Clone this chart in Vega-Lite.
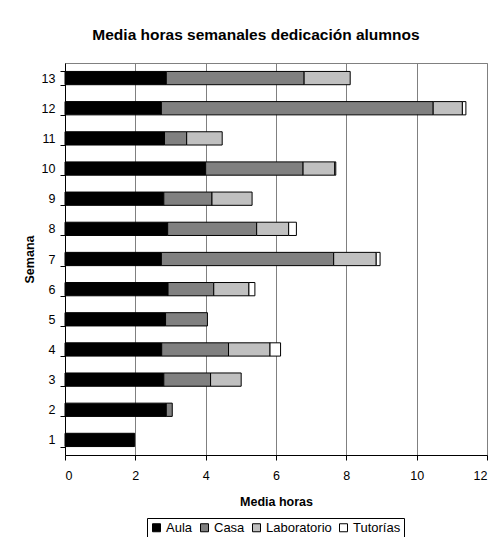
{
  "$schema": "https://vega.github.io/schema/vega-lite/v6.json",
  "autosize": "none",
  "width": 422,
  "height": 392,
  "padding": {"left": 65, "top": 63, "right": 9, "bottom": 82},
  "background": "white",
  "title": {
    "text": "Media horas semanales dedicación alumnos",
    "font": "Liberation Sans",
    "fontSize": 15.5,
    "fontWeight": "bold",
    "color": "black",
    "anchor": "middle",
    "dx": -20,
    "offset": 14
  },
  "data": {
    "values": [
      {"Semana": 13, "Tipo": "Aula", "Horas": 2.88},
      {"Semana": 13, "Tipo": "Casa", "Horas": 3.92},
      {"Semana": 13, "Tipo": "Laboratorio", "Horas": 1.31},
      {"Semana": 12, "Tipo": "Aula", "Horas": 2.74},
      {"Semana": 12, "Tipo": "Casa", "Horas": 7.73},
      {"Semana": 12, "Tipo": "Laboratorio", "Horas": 0.83},
      {"Semana": 12, "Tipo": "Tutorías", "Horas": 0.1},
      {"Semana": 11, "Tipo": "Aula", "Horas": 2.83},
      {"Semana": 11, "Tipo": "Casa", "Horas": 0.63},
      {"Semana": 11, "Tipo": "Laboratorio", "Horas": 1.01},
      {"Semana": 10, "Tipo": "Aula", "Horas": 4.0},
      {"Semana": 10, "Tipo": "Casa", "Horas": 2.77},
      {"Semana": 10, "Tipo": "Laboratorio", "Horas": 0.9},
      {"Semana": 10, "Tipo": "Tutorías", "Horas": 0.03},
      {"Semana": 9, "Tipo": "Aula", "Horas": 2.81},
      {"Semana": 9, "Tipo": "Casa", "Horas": 1.37},
      {"Semana": 9, "Tipo": "Laboratorio", "Horas": 1.14},
      {"Semana": 8, "Tipo": "Aula", "Horas": 2.92},
      {"Semana": 8, "Tipo": "Casa", "Horas": 2.53},
      {"Semana": 8, "Tipo": "Laboratorio", "Horas": 0.91},
      {"Semana": 8, "Tipo": "Tutorías", "Horas": 0.22},
      {"Semana": 7, "Tipo": "Aula", "Horas": 2.74},
      {"Semana": 7, "Tipo": "Casa", "Horas": 4.9},
      {"Semana": 7, "Tipo": "Laboratorio", "Horas": 1.21},
      {"Semana": 7, "Tipo": "Tutorías", "Horas": 0.11},
      {"Semana": 6, "Tipo": "Aula", "Horas": 2.93},
      {"Semana": 6, "Tipo": "Casa", "Horas": 1.3},
      {"Semana": 6, "Tipo": "Laboratorio", "Horas": 1.0},
      {"Semana": 6, "Tipo": "Tutorías", "Horas": 0.17},
      {"Semana": 5, "Tipo": "Aula", "Horas": 2.86},
      {"Semana": 5, "Tipo": "Casa", "Horas": 1.19},
      {"Semana": 4, "Tipo": "Aula", "Horas": 2.75},
      {"Semana": 4, "Tipo": "Casa", "Horas": 1.9},
      {"Semana": 4, "Tipo": "Laboratorio", "Horas": 1.18},
      {"Semana": 4, "Tipo": "Tutorías", "Horas": 0.3},
      {"Semana": 3, "Tipo": "Aula", "Horas": 2.81},
      {"Semana": 3, "Tipo": "Casa", "Horas": 1.33},
      {"Semana": 3, "Tipo": "Laboratorio", "Horas": 0.87},
      {"Semana": 2, "Tipo": "Aula", "Horas": 2.88},
      {"Semana": 2, "Tipo": "Casa", "Horas": 0.17},
      {"Semana": 1, "Tipo": "Aula", "Horas": 1.98}
    ]
  },
  "mark": {"type": "bar", "stroke": "black", "strokeWidth": 1},
  "encoding": {
    "y": {
      "field": "Semana",
      "type": "ordinal",
      "sort": "descending",
      "scale": {"paddingInner": 0.56, "paddingOuter": 0.28},
      "axis": {
        "title": "Semana",
        "titleFont": "Liberation Sans",
        "titleFontSize": 12.5,
        "titleFontWeight": "bold",
        "titleColor": "black",
        "titlePadding": 5,
        "labelFont": "Liberation Sans",
        "labelFontSize": 12.5,
        "labelColor": "black",
        "labelPadding": 5,
        "labelAngle": 0,
        "tickBand": "extent",
        "tickSize": 5,
        "tickColor": "black",
        "domainColor": "black",
        "grid": false
      }
    },
    "x": {
      "field": "Horas",
      "type": "quantitative",
      "stack": "zero",
      "scale": {"domain": [0, 12], "nice": false},
      "axis": {
        "title": "Media horas",
        "values": [0, 2, 4, 6, 8, 10, 12],
        "titleFont": "Liberation Sans",
        "titleFontSize": 12.5,
        "titleFontWeight": "bold",
        "titleColor": "black",
        "titlePadding": 14,
        "labelFont": "Liberation Sans",
        "labelFontSize": 12.5,
        "labelColor": "black",
        "labelPadding": 9,
        "tickSize": 5,
        "tickColor": "black",
        "domainColor": "black",
        "grid": true,
        "gridColor": "#808080",
        "gridWidth": 1
      }
    },
    "color": {
      "field": "Tipo",
      "type": "nominal",
      "scale": {
        "domain": ["Aula", "Casa", "Laboratorio", "Tutorías"],
        "range": ["#000000", "#808080", "#c0c0c0", "#ffffff"]
      },
      "legend": {
        "title": null,
        "orient": "none",
        "direction": "horizontal",
        "legendX": 82,
        "legendY": 455,
        "strokeColor": "black",
        "padding": 3,
        "symbolType": "square",
        "symbolSize": 64,
        "symbolStrokeColor": "black",
        "symbolStrokeWidth": 1,
        "symbolOpacity": 1,
        "labelFont": "Liberation Sans",
        "labelFontSize": 13,
        "labelColor": "black",
        "labelOffset": 3,
        "columnPadding": 5
      }
    }
  },
  "config": {
    "view": {"stroke": "#808080", "strokeWidth": 1}
  }
}
